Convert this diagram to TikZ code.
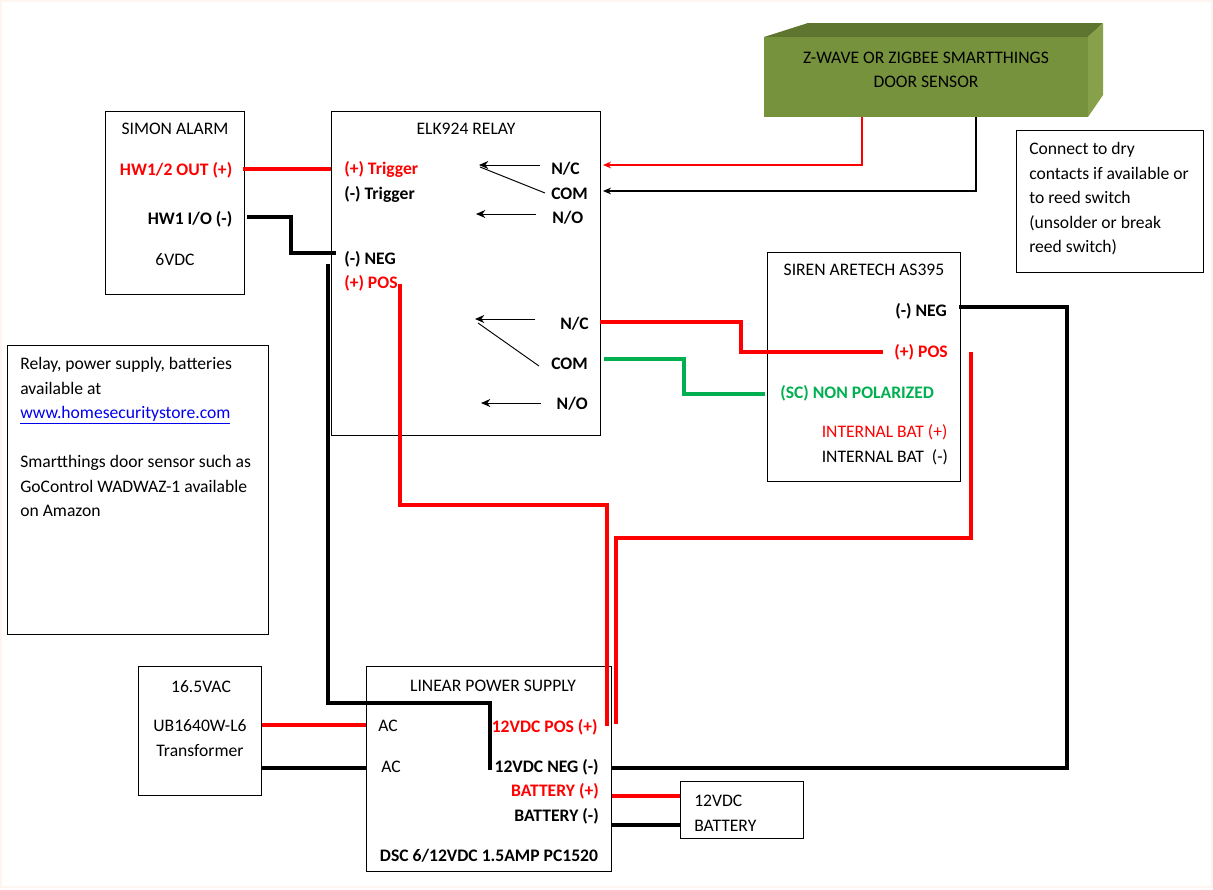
\documentclass[tikz,border=0pt]{standalone}
\usepackage{fontspec}
\setmainfont{Carlito}
\usetikzlibrary{positioning, arrows.meta}

\definecolor{wirered}{HTML}{FF0000}
\definecolor{wiregreen}{HTML}{00B050}
\definecolor{linkblue}{HTML}{0000EE}
\definecolor{sensorfront}{HTML}{76923C}
\definecolor{sensortop}{HTML}{5E7530}
\definecolor{sensorside}{HTML}{87A04A}
\definecolor{pageedge}{HTML}{FEF4F0}

\tikzset{
  box/.style={rectangle, draw, line width=0.7pt, inner sep=0pt},
  txt/.style={inner sep=0pt, text height=9.25pt, text depth=1.75pt, font=\fontsize{13.2}{14}\selectfont},
  btxt/.style={txt, font=\fontsize{13.2}{14}\selectfont\bfseries},
  wire/.style={line width=3pt, line join=miter},
  thin wire/.style={line width=0.9pt, -{Stealth[length=6pt,width=5pt]}},
  contact/.style={line width=0.7pt, -{Stealth[length=7pt,width=6pt]}},
  lever/.style={line width=0.7pt}
}

\begin{document}
\begin{tikzpicture}[x=0.75pt, y=-0.75pt]
  \useasboundingbox (0,0) rectangle (1213,889);
  \draw [pageedge, line width=0.8pt] (1,1) rectangle (1212,887);

  % Draw the door sensor
  \fill [sensortop] (764,37) -- (808,23) -- (1103,23) -- (1088,37) -- cycle;
  \fill [sensorside] (1088,37) -- (1103,23) -- (1103,95) -- (1088,117) -- cycle;
  \node (sensor) [rectangle, fill=sensorfront, minimum width=243pt, minimum height=60pt, inner sep=0pt] at (926,77) {};
  \node (sensorname) [txt, align=center, text height=, text depth=, font=\fontsize{13.2}{18.2}\selectfont] at (926,70) {Z-WAVE OR ZIGBEE SMARTTHINGS\\DOOR SENSOR};

  % Create the boxes
  \node (simon) [box, minimum width=104.5pt, minimum height=137.25pt] at (175.25,202.5) {};
  \node (elk) [box, minimum width=201.75pt, minimum height=243pt] at (466,273) {};
  \node (siren) [box, minimum width=144.5pt, minimum height=171.5pt] at (864,366.75) {};
  \node (psu) [box, minimum width=183.75pt, minimum height=153.75pt] at (489.25,769.25) {};
  \node (trans) [box, minimum width=92.25pt, minimum height=96.75pt] at (200.25,731.25) {};
  \node (battery) [box, minimum width=92.25pt, minimum height=42.75pt] at (742.25,809.75) {};
  \node (drynote) [box, minimum width=140.25pt, minimum height=106.5pt] at (1110.25,201.75) {};
  \node (infonote) [box, minimum width=195.75pt, minimum height=216.75pt] at (138.25,490.25) {};

  % Simon alarm labels
  \node (simonname) [txt] at (175,129) {SIMON ALARM};
  \node (hwout) [btxt, text=wirered, anchor=east] at (232.5,170) {HW1/2 OUT (+)};
  \node (hwio) [btxt, anchor=east] at (232.5,219) {HW1 I/O (-)};
  \node (simonvolt) [txt] at (175,260) {6VDC};

  % Relay labels
  \node (elkname) [txt] at (466,129) {ELK924 RELAY};
  \node (trigpos) [btxt, text=wirered, anchor=west] at (344,169) {(+) Trigger};
  \node (trigneg) [btxt, anchor=west] at (344,194) {(-) Trigger};
  \node (elkneg) [btxt, anchor=west] at (344,259) {(-) NEG};
  \node (elkpos) [btxt, text=wirered, anchor=west] at (344,283) {(+) POS};
  \node (upnc) [btxt, anchor=west] at (551,169) {N/C};
  \node (upcom) [btxt, anchor=west] at (551,194) {COM};
  \node (upno) [btxt, anchor=west] at (552,218) {N/O};
  \node (lownc) [btxt, anchor=east] at (589,324) {N/C};
  \node (lowcom) [btxt, anchor=east] at (588,364) {COM};
  \node (lowno) [btxt, anchor=east] at (588,404) {N/O};

  % Siren labels
  \node (sirenname) [txt] at (864,270.5) {SIREN ARETECH AS395};
  \node (sirenneg) [btxt, anchor=east] at (947,311.5) {(-) NEG};
  \node (sirenpos) [btxt, text=wirered, anchor=east] at (948,352) {(+) POS};
  \node (sirensc) [btxt, text=wiregreen, anchor=west] at (780,393) {(SC) NON POLARIZED};
  \node (batpos) [txt, text=wirered, anchor=west] at (821.5,432.5) {INTERNAL BAT (+)};
  \node (batneg) [txt, anchor=west] at (821.5,457.5) {INTERNAL BAT~~(-)};

  % Power supply labels
  \node (psuname) [txt] at (493,686) {LINEAR POWER SUPPLY};
  \node (acone) [txt] at (388,726) {AC};
  \node (actwo) [txt] at (391,767) {AC};
  \node (dcpos) [btxt, text=wirered, anchor=east] at (598,727) {12VDC POS (+)};
  \node (dcneg) [btxt, anchor=east] at (599,767) {12VDC NEG (-)};
  \node (psubatpos) [btxt, text=wirered, anchor=east] at (599,791) {BATTERY (+)};
  \node (psubatneg) [btxt, anchor=east] at (599,816) {BATTERY (-)};
  \node (psumodel) [btxt] at (489,856) {DSC 6/12VDC 1.5AMP PC1520};

  % Transformer and battery labels
  \node (transvolt) [txt] at (201,687) {16.5VAC};
  \node (transmodel) [txt] at (200,726) {UB1640W-L6};
  \node (transname) [txt] at (200,751) {Transformer};
  \node (batvolt) [txt, anchor=west] at (694,801) {12VDC};
  \node (batname) [txt, anchor=west] at (694,826) {BATTERY};

  % Notes
  \node (drytext) [inner sep=0pt, anchor=north west, align=left, font=\fontsize{13.2}{18.4}\selectfont] at (1029,142) {Connect to dry\\contacts if available or\\to reed switch\\(unsolder or break\\reed switch)};
  \node (infotext) [inner sep=0pt, anchor=north west, align=left, font=\fontsize{13.2}{18.4}\selectfont] at (20,357) {Relay, power supply, batteries\\available at\\\textcolor{linkblue}{\underline{www.homesecuritystore.com}}\\[18.4pt]Smartthings door sensor such as\\GoControl WADWAZ-1 available\\on Amazon};

  % Wire corners and free ends
  \coordinate (elkpin) at (336,253);
  \coordinate (negtop) at (328,264);
  \coordinate (postop) at (400,284);
  \coordinate (posend) at (606.5,726);
  \coordinate (sirentail) at (971,352);
  \coordinate (sirenend) at (615.5,724);
  \coordinate (sirenin) at (883,352);
  \coordinate (scin) at (765,394);
  \coordinate (negend) at (490,770);

  % Draw the relay contacts
  \draw [contact] (540,165) -- (479,165);
  \draw [lever] (545,193) -- (480,167);
  \draw [contact] (536,214) -- (476,214);
  \draw [contact] (535,319) -- (475,319);
  \draw [lever] (539,366) -- (478,323);
  \draw [contact] (541,403) -- (481,403);

  % Draw the sensor wires
  \draw [thin wire, wirered] (sensor.south -| 862,0) -- (862,165) -- (603,165);
  \draw [thin wire] (sensor.south -| 976,0) -- (976,191) -- (603,191);

  % Draw the power wires
  \draw [wire, wirered] ([xshift=-1.5pt]simon.east |- 0,169) -- (elk.west |- 0,169);
  \draw [wire] ([xshift=1.5pt]simon.east |- 0,217) -- (291,217) -- (291,253) -- (elkpin);
  \draw [wire] (negtop) -- (328,703) -- (490,703) -- (negend);
  \draw [wire, wirered] (postop) -- (400,505) -- (606.5,505) -- (posend);
  \draw [wire, wirered] (sirentail) -- (971,538) -- (615.5,538) -- (sirenend);
  \draw [wire, wirered] (600,322) -- (741,322) -- (741,352) -- (sirenin);
  \draw [wire, wiregreen] (604,359) -- (684,359) -- (684,394) -- (scin);
  \draw [wire] ([xshift=-1pt]siren.east |- 0,307) -- (1067,307) -- (1067,767.5) -- (psu.east |- 0,767.5);
  \draw [wire, wirered] (trans.east |- 0,725) -- (psu.west |- 0,725);
  \draw [wire] (trans.east |- 0,768) -- (psu.west |- 0,768);
  \draw [wire, wirered] (psu.east |- 0,796) -- (battery.west |- 0,796);
  \draw [wire] (psu.east |- 0,825) -- (battery.west |- 0,825);
\end{tikzpicture}
\end{document}
